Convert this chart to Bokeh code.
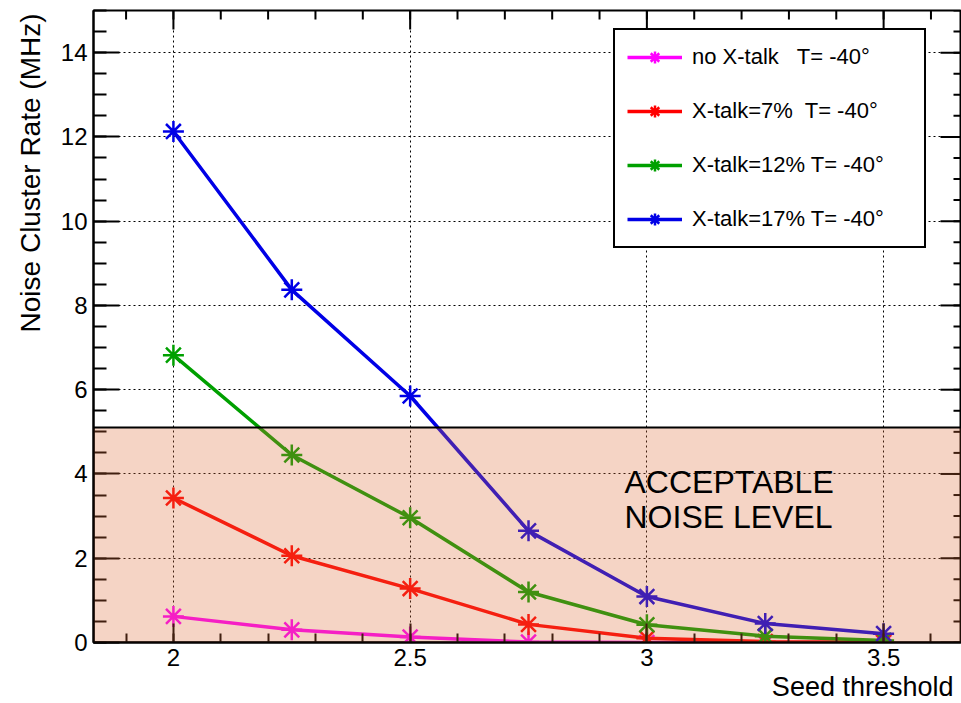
import math
from bokeh.plotting import figure
from bokeh.models import (Range1d, FixedTicker, LinearAxis, BoxAnnotation, Label,
                          Legend, LegendItem, Title)
from bokeh.embed import file_html
from bokeh.resources import INLINE

# ---- data ----
seed = [2.0, 2.25, 2.5, 2.75, 3.0, 3.25, 3.5]
rate_no_xtalk = [0.62, 0.30, 0.13, 0.01, 0.0, 0.0, 0.0]
rate_xtalk7 = [3.43, 2.06, 1.28, 0.43, 0.10, 0.02, 0.01]
rate_xtalk12 = [6.82, 4.45, 2.96, 1.20, 0.42, 0.15, 0.05]
rate_xtalk17 = [12.13, 8.37, 5.85, 2.65, 1.09, 0.45, 0.21]
series_labels = ["no X-talk\u00a0\u00a0 T= -40\u00b0", "X-talk=7%\u00a0 T= -40\u00b0",
                 "X-talk=12% T= -40\u00b0", "X-talk=17% T= -40\u00b0"]
series_colors = ["#ff00ff", "#ff0000", "#00a000", "#0000e6"]
x_major = [2.0, 2.5, 3.0, 3.5]
x_minor = [round(1.9 + 0.1 * i, 1) for i in range(18)]
y_major = [0, 2, 4, 6, 8, 10, 12, 14]
y_minor = [0.5 * i for i in range(31)]
acceptable_level = 5.1
x_lo, x_hi = 1.8312, 3.6645
y_lo, y_hi = 0.0, 15.0

FONT = "Liberation Sans"

p = figure(width=961, height=702, output_backend="svg", toolbar_location=None,
           x_range=Range1d(x_lo, x_hi), y_range=Range1d(y_lo, y_hi),
           min_border_left=93, min_border_right=0, min_border_top=10,
           min_border_bottom=60, x_axis_location=None, y_axis_location=None)
p.outline_line_color = "black"
p.outline_line_width = 2
p.background_fill_color = "white"
p.border_fill_color = "white"

# grids
p.xgrid.ticker = FixedTicker(ticks=x_major)
p.ygrid.ticker = FixedTicker(ticks=y_major[1:])
for g in (p.xgrid, p.ygrid):
    g.grid_line_color = "black"
    g.grid_line_dash = "2 3"
    g.grid_line_width = 1

def make_axis(ticks, minor, major_in, minor_in, standoff):
    ax = LinearAxis(ticker=FixedTicker(ticks=ticks, minor_ticks=minor))
    ax.major_tick_in = major_in
    ax.major_tick_out = 0
    ax.minor_tick_in = minor_in
    ax.minor_tick_out = 0
    ax.major_tick_line_width = 2
    ax.minor_tick_line_width = 2
    ax.axis_line_width = 2
    ax.major_label_text_font = FONT
    ax.major_label_text_font_size = "24px"
    ax.major_label_text_color = "black"
    ax.major_label_standoff = standoff
    return ax

left = make_axis(y_major, y_minor, 26, 13, 6)
bottom = make_axis(x_major, x_minor, 19, 9, 6)
p.add_layout(left, "left")
p.add_layout(bottom, "below")

# axis titles
ytitle = Title(text="Noise Cluster Rate (MHz)", align="right", text_font=FONT,
               text_font_size="28px", text_font_style="normal", text_color="black",
               standoff=24, offset=3)
p.add_layout(ytitle, "left")
xtitle = Title(text="Seed threshold", align="right", text_font=FONT,
               text_font_size="27px", text_font_style="normal", text_color="black",
               standoff=2, offset=8)
p.add_layout(xtitle, "below")

# tick marks on the top and right edges (inside the frame)
p.ray(x=x_major, y=[y_hi] * len(x_major), length=19, angle=-math.pi / 2,
      length_units="screen", line_color="black", line_width=2)
p.ray(x=x_minor, y=[y_hi] * len(x_minor), length=9, angle=-math.pi / 2,
      length_units="screen", line_color="black", line_width=2)
p.ray(x=[x_hi] * len(y_major), y=y_major, length=21, angle=math.pi,
      length_units="screen", line_color="black", line_width=2)
p.ray(x=[x_hi] * len(y_minor), y=y_minor, length=8, angle=math.pi,
      length_units="screen", line_color="black", line_width=2)

# series
items = []
for ys, lab, col in zip([rate_no_xtalk, rate_xtalk7, rate_xtalk12, rate_xtalk17],
                        series_labels, series_colors):
    lr = p.line(seed, ys, line_color=col, line_width=3.5)
    sr = p.scatter(seed, ys, marker="asterisk", size=21, line_color=col, line_width=2.5)
    items.append(LegendItem(label=lab, renderers=[lr, sr]))

# acceptable band (drawn over data, semi-transparent)
band = BoxAnnotation(bottom=0, top=acceptable_level, fill_color="#dc6b37",
                     fill_alpha=0.29, line_color="black", line_width=2, line_alpha=1)
p.add_layout(band)

p.add_layout(Label(x=531, y=161, x_units="screen", y_units="screen", text="ACCEPTABLE",
                   text_font=FONT, text_font_size="32px", text_color="black",
                   text_baseline="alphabetic", text_align="left"))
p.add_layout(Label(x=531, y=126, x_units="screen", y_units="screen", text="NOISE LEVEL",
                   text_font=FONT, text_font_size="32px", text_color="black",
                   text_baseline="alphabetic", text_align="left"))

legend = Legend(items=items, location=(520, 394))
legend.label_text_font = FONT
legend.label_text_font_size = "22px"
legend.label_text_color = "black"
legend.glyph_width = 55
legend.glyph_height = 30
legend.label_height = 30
legend.label_width = 220
legend.label_standoff = 10
legend.padding = 12
legend.spacing = 24
legend.margin = 0
legend.border_line_color = "black"
legend.border_line_alpha = 1
legend.border_line_width = 2
legend.background_fill_color = "white"
legend.background_fill_alpha = 1
p.add_layout(legend)

open("out.html", "w").write(file_html(p, INLINE))
